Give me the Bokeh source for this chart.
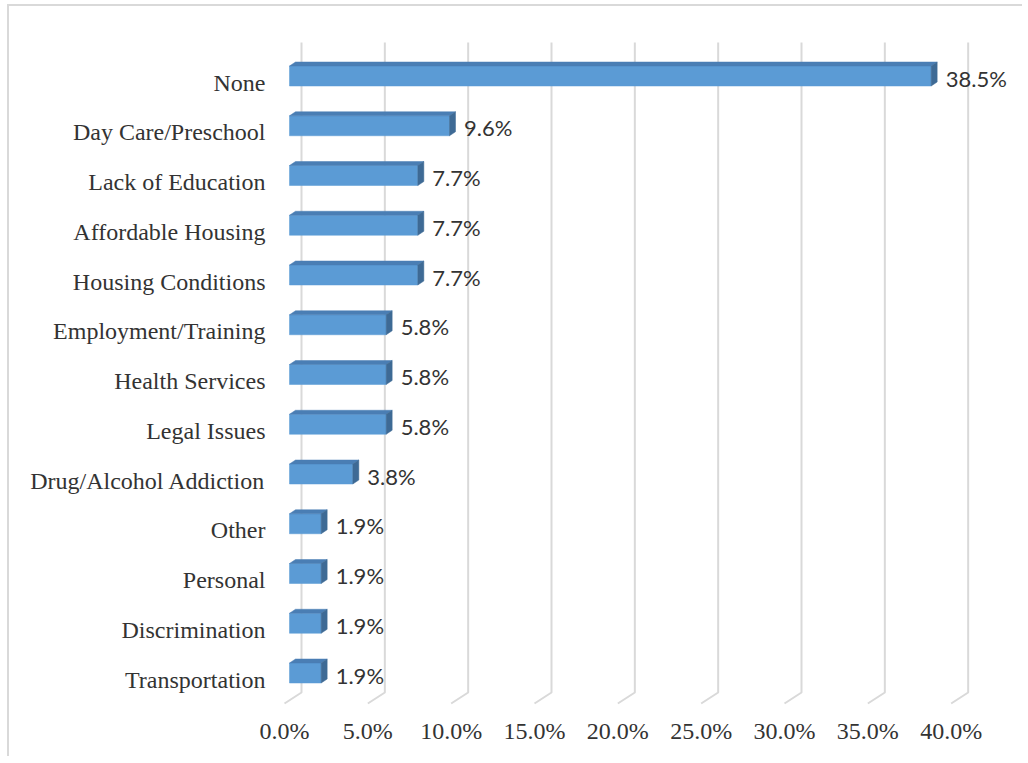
from bokeh.plotting import figure
from bokeh.models import Range1d, FixedTicker, PrintfTickFormatter, ColumnDataSource
from bokeh.core.properties import value
from bokeh.embed import file_html
from bokeh.resources import INLINE

# ---- data (top to bottom as shown) ----
categories = ["None", "Day Care/Preschool", "Lack of Education", "Affordable Housing",
              "Housing Conditions", "Employment/Training", "Health Services", "Legal Issues",
              "Drug/Alcohol Addiction", "Other", "Personal", "Discrimination", "Transportation"]
values = [38.5, 9.6, 7.7, 7.7, 7.7, 5.8, 5.8, 5.8, 3.8, 1.9, 1.9, 1.9, 1.9]
x_ticks = [0, 5, 10, 15, 20, 25, 30, 35, 40]

# ---- geometry (pixels -> data units) ----
KX = 16.6667   # px per percent
KY = 49.75     # px per row
W, H = 1015, 752
ML, MR, MT, MB = 263, 9, 24, 46
frame_w = W - ML - MR
frame_h = H - MT - MB
x0 = -12 / KX
y0 = -33 / KY

n = len(categories)
rows = [n - 1 - i for i in range(n)]  # None at top

p = figure(width=W, height=H, output_backend="svg", toolbar_location=None,
           x_range=Range1d(x0, x0 + frame_w / KX), y_range=Range1d(y0, y0 + frame_h / KY),
           min_border_left=ML, min_border_right=MR, min_border_top=MT, min_border_bottom=MB)
p.outline_line_color = None
p.xgrid.visible = False
p.ygrid.visible = False
p.background_fill_color = "white"
p.border_fill_color = "white"
p.styles = {"border-top": "2px solid #d9d9d9", "border-left": "2px solid #d9d9d9",
            "margin-top": "4px", "margin-left": "7px"}

# 3D gridlines (back wall + floor)
back_dx = 17 / KX
wall_top = (n - 1) + 40 / KY
floor_back = -13 / KY
floor_front = -24 / KY
gx = [[t + back_dx, t + back_dx, t] for t in x_ticks]
gy = [[wall_top, floor_back, floor_front] for _ in x_ticks]
p.multi_line(gx, gy, line_color="#d9d9d9", line_width=2)

# 3D bars
ddx, ddy = 6 / KX, 4 / KY
left = 5 / KX
fl, fr, ft, fb = [], [], [], []
top_xs, top_ys, side_xs, side_ys = [], [], [], []
for r, v in zip(rows, values):
    L, R = left, left + v
    T, B = r + 16.5 / KY, r - 3.5 / KY
    fl.append(L); fr.append(R); ft.append(T); fb.append(B)
    top_xs.append([L, L + ddx, R + ddx, R]); top_ys.append([T, T + ddy, T + ddy, T])
    side_xs.append([R, R + ddx, R + ddx, R]); side_ys.append([T, T + ddy, B + ddy, B])

p.quad(left=fl, right=fr, top=ft, bottom=fb, fill_color="#5B9BD5", line_color="#5B9BD5", line_width=0.5)
p.patches(top_xs, top_ys, fill_color="#4A7EB4", line_color="#4A7EB4", line_width=0.5)
p.patches(side_xs, side_ys, fill_color="#3E6A95", line_color="#3E6A95", line_width=0.5)

# data labels
src = ColumnDataSource(dict(x=[left + v + 14.5 / KX for v in values],
                            y=[r + 4.5 / KY for r in rows],
                            t=[f"{v:.1f}%" for v in values]))
p.text(x="x", y="y", text="t", source=src, text_font=value("Lato"), text_font_size="22px",
       text_color="#333333", text_baseline="middle", text_align="left")

# axes
p.xaxis.ticker = FixedTicker(ticks=x_ticks)
p.xaxis.formatter = PrintfTickFormatter(format="%.1f%%")
p.xaxis.axis_line_color = None
p.xaxis.major_tick_line_color = None
p.xaxis.minor_tick_line_color = None
p.xaxis.major_tick_out = 0
p.xaxis.major_tick_in = 0
p.xaxis.major_label_standoff = 5
p.xaxis.major_label_text_font = "Liberation Serif"
p.xaxis.major_label_text_font_size = "24px"
p.xaxis.major_label_text_color = "#333333"

p.yaxis.ticker = FixedTicker(ticks=rows)
p.yaxis.major_label_overrides = {r: c for r, c in zip(rows, categories)}
p.yaxis.axis_line_color = None
p.yaxis.major_tick_line_color = None
p.yaxis.minor_tick_line_color = None
p.yaxis.major_tick_out = 0
p.yaxis.major_tick_in = 0
p.yaxis.major_label_standoff = 7
p.yaxis.major_label_text_font = "Liberation Serif"
p.yaxis.major_label_text_font_size = "24px"
p.yaxis.major_label_text_color = "#333333"

open("out.html", "w").write(file_html(p, INLINE))
